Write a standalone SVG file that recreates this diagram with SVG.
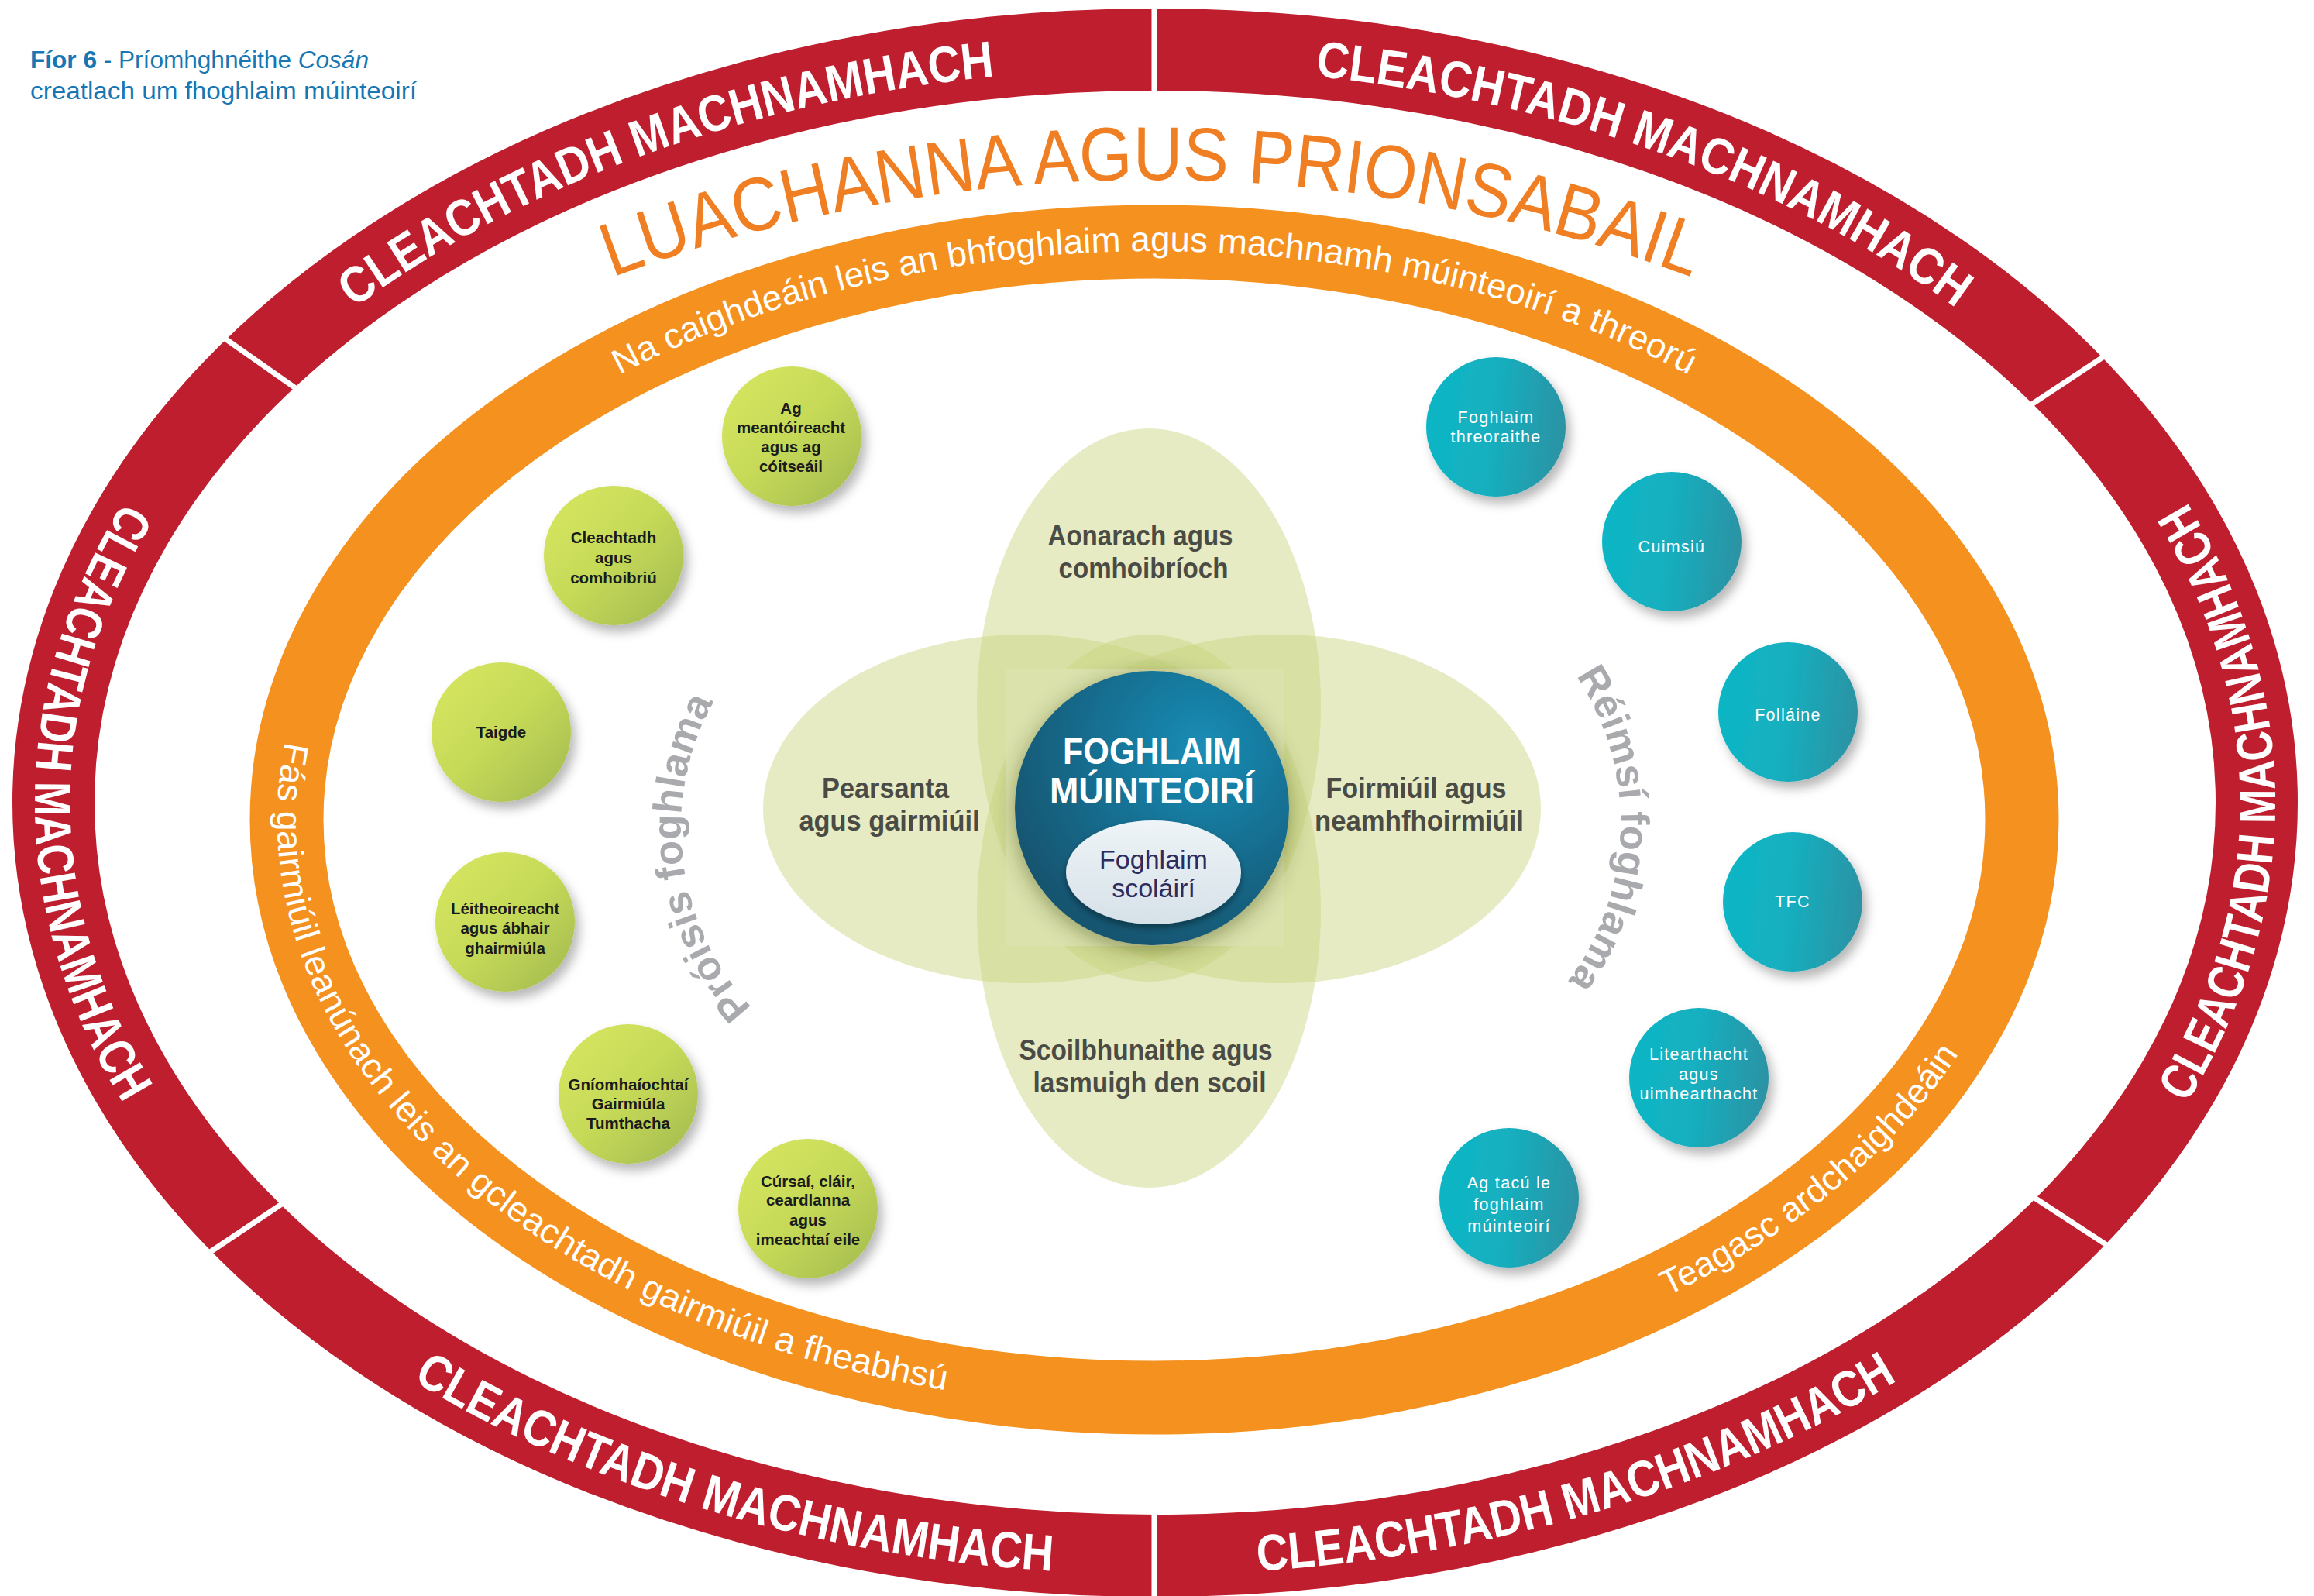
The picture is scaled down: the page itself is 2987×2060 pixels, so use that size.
<svg xmlns="http://www.w3.org/2000/svg" width="2987" height="2060" viewBox="0 0 2987 2060">
<defs>
<style>
.rt{font-family:"Liberation Sans",Arial,sans-serif;font-weight:bold;font-size:66px;fill:#fff}
.ot{font-family:"Liberation Sans",Arial,sans-serif;font-size:45px;fill:#fff}
.gt{font-family:"Liberation Sans",Arial,sans-serif;font-weight:bold;font-size:20.5px;fill:#1b1b1b;text-anchor:middle}
.tt{font-family:"Liberation Sans",Arial,sans-serif;font-size:21.5px;letter-spacing:1.3px;fill:#fff;text-anchor:middle}
.pt{font-family:"Liberation Sans",Arial,sans-serif;font-weight:bold;font-size:36px;fill:#4b4b45;text-anchor:middle}
.arc{font-family:"Liberation Sans",Arial,sans-serif;font-weight:bold;font-size:52px;fill:#a8aaad}
.petal{fill:#CAD47F;fill-opacity:.47}
.div{stroke:#fff;stroke-width:7}
</style>
<linearGradient id="gG" x1="0.15" y1="0.15" x2="0.9" y2="0.9">
<stop offset="0" stop-color="#D3E35E"/><stop offset="0.45" stop-color="#C6DA58"/><stop offset="1" stop-color="#A8BF50"/>
</linearGradient>
<linearGradient id="gT" x1="0" y1="0.5" x2="1" y2="0.6">
<stop offset="0" stop-color="#0FB6C5"/><stop offset="0.45" stop-color="#14B0C0"/><stop offset="1" stop-color="#2C92A3"/>
</linearGradient>
<radialGradient id="gC" cx="0.68" cy="0.28" r="0.85">
<stop offset="0" stop-color="#1A8DB6"/><stop offset="0.55" stop-color="#17698A"/><stop offset="1" stop-color="#114F68"/>
</radialGradient>
<linearGradient id="gI" x1="0" y1="0" x2="0" y2="1">
<stop offset="0" stop-color="#EEF4F7"/><stop offset="1" stop-color="#D6E1E8"/>
</linearGradient>
<filter id="sh" x="-30%" y="-30%" width="170%" height="170%">
<feDropShadow dx="6" dy="9" stdDeviation="7" flood-color="#000" flood-opacity="0.28"/>
</filter>
<filter id="csh" x="-30%" y="-30%" width="160%" height="160%">
<feDropShadow dx="0" dy="6" stdDeviation="14" flood-color="#2a3a10" flood-opacity="0.45"/>
</filter>
<filter id="ish" x="-30%" y="-30%" width="160%" height="160%">
<feDropShadow dx="0" dy="5" stdDeviation="5" flood-color="#000" flood-opacity="0.4"/>
</filter>
<path id="p_tl" d="M 290.1 550.6 A 1398 948 0 0 1 1510.5 88.1"/>
<path id="p_tr" d="M 1471.5 88.1 A 1398 948 0 0 1 2691.9 550.6"/>
<path id="p_l" d="M 238.8 538 A 1446 996 0 0 0 238.8 1534"/>
<path id="p_r" d="M 2743.2 1534 A 1446 996 0 0 0 2743.2 538"/>
<path id="p_bl" d="M 315.3 1615.8 A 1446 996 0 0 0 1632.1 2027.2"/>
<path id="p_br" d="M 1349.9 2027.2 A 1446 996 0 0 0 2666.7 1615.8"/>
<path id="o_top" d="M 530.5 691 A 1108 734 0 0 1 2449.5 691"/>
<path id="o_left" d="M 481.4 713.9 A 1132 758 0 0 0 1490 1816"/>
<path id="o_br" d="M 2003.9 1733.4 A 1132 758 0 0 0 2597.2 1215.6"/>
<path id="t_arc" d="M 645.6 418.6 A 1991 1991 0 0 1 2328.4 418.6"/>
<path id="g_left" d="M 1033.9 1353.1 A 338 338 0 0 1 969.0 839.4"/>
<path id="g_right" d="M 1977.3 807.3 A 340 340 0 0 1 1963.7 1328.1"/>
</defs>

<rect width="2987" height="2060" fill="#fff"/>

<g id="title">
<text x="39" y="88" font-family="Liberation Sans, Arial, sans-serif" font-size="31" fill="#1877B3" textLength="437" lengthAdjust="spacingAndGlyphs"><tspan font-weight="bold">Fíor 6</tspan> - Príomhghnéithe <tspan font-style="italic">Cosán</tspan></text>
<text x="39" y="128" font-family="Liberation Sans, Arial, sans-serif" font-size="31" fill="#1877B3" textLength="499" lengthAdjust="spacingAndGlyphs">creatlach um fhoghlaim múinteoirí</text>
</g>

<g id="reflective-ring">
<ellipse cx="1491" cy="1036" rx="1422" ry="972" fill="none" stroke="#BE1E2D" stroke-width="106"/>
<line class="div" x1="1490" y1="0" x2="1490" y2="128"/>
<line class="div" x1="1490" y1="1942" x2="1490" y2="2060"/>
<line class="div" x1="281.0" y1="430.3" x2="390.6" y2="507.3"/>
<line class="div" x1="2724.9" y1="454.1" x2="2613.1" y2="528.1"/>
<line class="div" x1="261.6" y1="1622.5" x2="373.0" y2="1547.9"/>
<line class="div" x1="2729.2" y1="1613.4" x2="2617.0" y2="1540.0"/>
<text class="rt" textLength="890" lengthAdjust="spacingAndGlyphs"><textPath href="#p_tl" startOffset="50%" text-anchor="middle">CLEACHTADH MACHNAMHACH</textPath></text>
<text class="rt" textLength="890" lengthAdjust="spacingAndGlyphs"><textPath href="#p_tr" startOffset="50%" text-anchor="middle">CLEACHTADH MACHNAMHACH</textPath></text>
<text class="rt" textLength="820" lengthAdjust="spacingAndGlyphs"><textPath href="#p_l" startOffset="50%" text-anchor="middle">CLEACHTADH MACHNAMHACH</textPath></text>
<text class="rt" textLength="820" lengthAdjust="spacingAndGlyphs"><textPath href="#p_r" startOffset="50%" text-anchor="middle">CLEACHTADH MACHNAMHACH</textPath></text>
<text class="rt" textLength="870" lengthAdjust="spacingAndGlyphs"><textPath href="#p_bl" startOffset="50%" text-anchor="middle">CLEACHTADH MACHNAMHACH</textPath></text>
<text class="rt" textLength="870" lengthAdjust="spacingAndGlyphs"><textPath href="#p_br" startOffset="50%" text-anchor="middle">CLEACHTADH MACHNAMHACH</textPath></text>
</g>

<g id="values-title">
<text font-family="Liberation Sans, Arial, sans-serif" font-size="98" fill="#EF7F22" textLength="1424" lengthAdjust="spacingAndGlyphs"><textPath href="#t_arc" startOffset="50%" text-anchor="middle">LUACHANNA AGUS PRIONSABAIL</textPath></text>
</g>

<g id="standards-ring">
<ellipse cx="1490" cy="1058" rx="1120" ry="746" fill="none" stroke="#F5911F" stroke-width="95"/>
<text class="ot" textLength="1430" lengthAdjust="spacingAndGlyphs"><textPath href="#o_top" startOffset="50%" text-anchor="middle">Na caighdeáin leis an bhfoghlaim agus machnamh múinteoirí a threorú</textPath></text>
<text class="ot" textLength="1330" lengthAdjust="spacingAndGlyphs"><textPath href="#o_left" startOffset="50%" text-anchor="middle">Fás gairmiúil leanúnach leis an gcleachtadh gairmiúil a fheabhsú</textPath></text>
<text class="ot" textLength="495" lengthAdjust="spacingAndGlyphs"><textPath href="#o_br" startOffset="50%" text-anchor="middle">Teagasc ardchaighdeáin</textPath></text>
</g>

<g id="petals">
<ellipse class="petal" cx="1483" cy="910" rx="222" ry="357"/>
<ellipse class="petal" cx="1483" cy="1176" rx="222" ry="357"/>
<ellipse class="petal" cx="1322" cy="1044" rx="337" ry="225"/>
<ellipse class="petal" cx="1652" cy="1044" rx="337" ry="225"/>
<rect x="1298" y="863" width="360" height="358" fill="#DCE2AC"/>
</g>
<g id="petal-top"><text class="pt" x="1472" y="704" textLength="239" lengthAdjust="spacingAndGlyphs">Aonarach agus</text><text class="pt" x="1476" y="746" textLength="219" lengthAdjust="spacingAndGlyphs">comhoibríoch</text></g>
<g id="petal-left"><text class="pt" x="1143" y="1030" textLength="164" lengthAdjust="spacingAndGlyphs">Pearsanta</text><text class="pt" x="1148" y="1072" textLength="233" lengthAdjust="spacingAndGlyphs">agus gairmiúil</text></g>
<g id="petal-right"><text class="pt" x="1828" y="1030" textLength="233" lengthAdjust="spacingAndGlyphs">Foirmiúil agus</text><text class="pt" x="1832" y="1072" textLength="270" lengthAdjust="spacingAndGlyphs">neamhfhoirmiúil</text></g>
<g id="petal-bottom"><text class="pt" x="1479" y="1368" textLength="327" lengthAdjust="spacingAndGlyphs">Scoilbhunaithe agus</text><text class="pt" x="1484" y="1410" textLength="301" lengthAdjust="spacingAndGlyphs">lasmuigh den scoil</text></g>

<g id="center">
<circle cx="1487" cy="1043" r="177" fill="url(#gC)" filter="url(#csh)"/>
<text x="1487" y="986" font-family="Liberation Sans, Arial, sans-serif" font-weight="bold" font-size="48" fill="#fff" text-anchor="middle" textLength="230" lengthAdjust="spacingAndGlyphs">FOGHLAIM</text>
<text x="1487" y="1037" font-family="Liberation Sans, Arial, sans-serif" font-weight="bold" font-size="48" fill="#fff" text-anchor="middle" textLength="264" lengthAdjust="spacingAndGlyphs">MÚINTEOIRÍ</text>
</g>
<g id="pupil-learning">
<ellipse cx="1489" cy="1126" rx="113" ry="67" fill="url(#gI)" filter="url(#ish)"/>
<text x="1489" y="1121" font-family="Liberation Sans, Arial, sans-serif" font-size="34" fill="#2E2B5F" text-anchor="middle">Foghlaim</text>
<text x="1489" y="1158" font-family="Liberation Sans, Arial, sans-serif" font-size="34" fill="#2E2B5F" text-anchor="middle">scoláirí</text>
</g>

<g id="processes-label">
<text class="arc" textLength="425" lengthAdjust="spacingAndGlyphs"><textPath href="#g_left" startOffset="50%" text-anchor="middle">Próisis foghlama</textPath></text>
</g>
<g id="areas-label">
<text class="arc" textLength="420" lengthAdjust="spacingAndGlyphs"><textPath href="#g_right" startOffset="50%" text-anchor="middle">Réimsí foghlama</textPath></text>
</g>

<g id="g-mentoring"><circle cx="1022" cy="563" r="90" fill="url(#gG)" filter="url(#sh)"/>
<text class="gt" x="1021" y="534">Ag</text><text class="gt" x="1021" y="559">meantóireacht</text><text class="gt" x="1021" y="584">agus ag</text><text class="gt" x="1021" y="609">cóitseáil</text></g>
<g id="g-collab"><circle cx="792" cy="717" r="90" fill="url(#gG)" filter="url(#sh)"/>
<text class="gt" x="792" y="701">Cleachtadh</text><text class="gt" x="792" y="727">agus</text><text class="gt" x="792" y="753">comhoibriú</text></g>
<g id="g-research"><circle cx="647" cy="945" r="90" fill="url(#gG)" filter="url(#sh)"/>
<text class="gt" x="647" y="952">Taigde</text></g>
<g id="g-reading"><circle cx="652" cy="1190" r="90" fill="url(#gG)" filter="url(#sh)"/>
<text class="gt" x="652" y="1180">Léitheoireacht</text><text class="gt" x="652" y="1205">agus ábhair</text><text class="gt" x="652" y="1231">ghairmiúla</text></g>
<g id="g-immersive"><circle cx="811" cy="1412" r="90" fill="url(#gG)" filter="url(#sh)"/>
<text class="gt" x="811" y="1407">Gníomhaíochtaí</text><text class="gt" x="811" y="1432">Gairmiúla</text><text class="gt" x="811" y="1457">Tumthacha</text></g>
<g id="g-courses"><circle cx="1043" cy="1560" r="90" fill="url(#gG)" filter="url(#sh)"/>
<text class="gt" x="1043" y="1532">Cúrsaí, cláir,</text><text class="gt" x="1043" y="1556">ceardlanna</text><text class="gt" x="1043" y="1582">agus</text><text class="gt" x="1043" y="1607">imeachtaí eile</text></g>

<g id="t-guided"><circle cx="1931" cy="551" r="90" fill="url(#gT)" filter="url(#sh)"/>
<text class="tt" x="1931" y="546">Foghlaim</text><text class="tt" x="1931" y="571">threoraithe</text></g>
<g id="t-inclusion"><circle cx="2158" cy="699" r="90" fill="url(#gT)" filter="url(#sh)"/>
<text class="tt" x="2158" y="713">Cuimsiú</text></g>
<g id="t-wellbeing"><circle cx="2308" cy="919" r="90" fill="url(#gT)" filter="url(#sh)"/>
<text class="tt" x="2308" y="930">Folláine</text></g>
<g id="t-ict"><circle cx="2314" cy="1164" r="90" fill="url(#gT)" filter="url(#sh)"/>
<text class="tt" x="2314" y="1171">TFC</text></g>
<g id="t-literacy"><circle cx="2193" cy="1391" r="90" fill="url(#gT)" filter="url(#sh)"/>
<text class="tt" x="2193" y="1368">Litearthacht</text><text class="tt" x="2193" y="1394">agus</text><text class="tt" x="2193" y="1419">uimhearthacht</text></g>
<g id="t-supporting"><circle cx="1948" cy="1546" r="90" fill="url(#gT)" filter="url(#sh)"/>
<text class="tt" x="1948" y="1534">Ag tacú le</text><text class="tt" x="1948" y="1562">foghlaim</text><text class="tt" x="1948" y="1590">múinteoirí</text></g>
</svg>
